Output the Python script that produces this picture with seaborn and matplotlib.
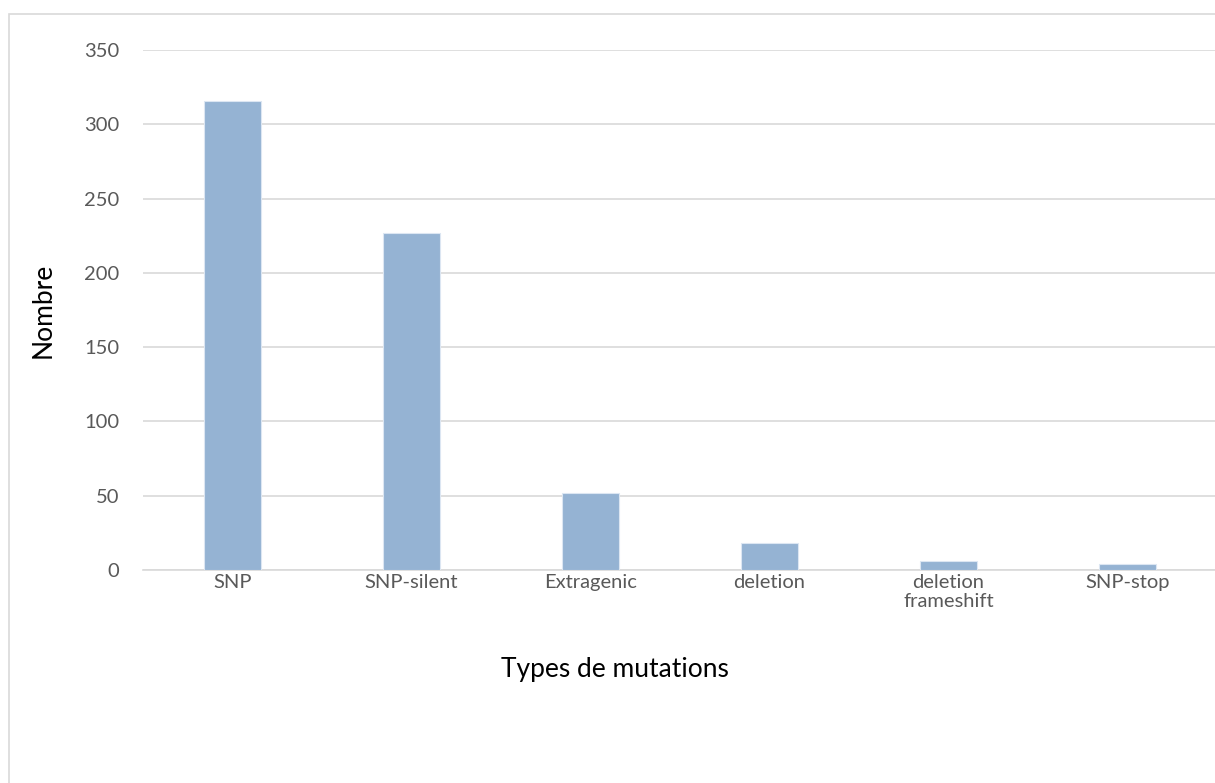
import matplotlib
matplotlib.use("Agg")
import matplotlib.pyplot as plt
import seaborn as sns
import pandas as pd
from matplotlib.patches import Rectangle

# Mutation counts by type
categories = ["SNP", "SNP-silent", "Extragenic", "deletion", "deletion\nframeshift", "SNP-stop"]
counts = [316, 227, 52, 18, 6, 4]
yticks = [0, 50, 100, 150, 200, 250, 300, 350]

df = pd.DataFrame({"type": categories, "count": counts})

sns.set_theme(style="white")
plt.rcParams["font.family"] = ["Lato", "DejaVu Sans"]

W, H = 1215, 783
fig = plt.figure(figsize=(W / 100, H / 100), dpi=100)
ax = fig.add_axes([143 / W, 1 - 570 / H, (1217 - 143) / W, (570 - 50) / H])

sns.barplot(data=df, x="type", y="count", color="#95B3D3", saturation=1,
            width=0.32, edgecolor="#DCE6F2", linewidth=0.8, ax=ax, zorder=3)

ax.set_ylim(0, 350)
ax.set_yticks(yticks)
ax.set_yticklabels([str(v) for v in yticks])
ax.grid(axis="y", color="#D9D9D9", linewidth=1.2, zorder=0)
ax.set_axisbelow(True)
for s in ["top", "right", "left"]:
    ax.spines[s].set_visible(False)
ax.spines["bottom"].set_color("#D9D9D9")
ax.spines["bottom"].set_linewidth(1.2)

ax.tick_params(axis="y", length=0, pad=17, labelsize=14.5, labelcolor="#595959")
ax.tick_params(axis="x", length=0, pad=3, labelsize=14.5, labelcolor="#595959")
for lbl in ax.get_xticklabels():
    lbl.set_linespacing(1.1)
ax.set_xlabel("")
ax.set_ylabel("")

fig.text(43 / W, 1 - 310 / H, "Nombre", fontsize=19, rotation=90,
         ha="center", va="center", color="black")
fig.text(615 / W, 1 - 669 / H, "Types de mutations", fontsize=19,
         ha="center", va="center", color="black")

# Chart area frame
fig.patches.append(Rectangle((8.5 / W, -0.1), 1.2, 1 - 13.5 / H + 0.1,
                             transform=fig.transFigure, fill=False,
                             edgecolor="#D9D9D9", linewidth=1.2))

fig.savefig("out.png", dpi=100, facecolor="white")
